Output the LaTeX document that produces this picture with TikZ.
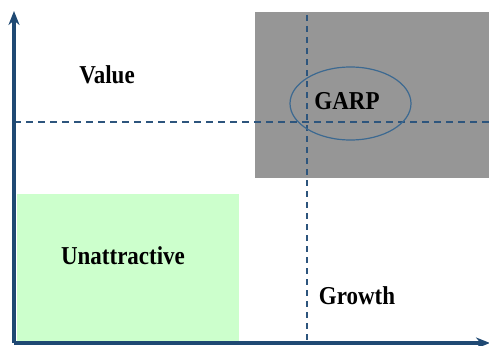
\documentclass[tikz,border=0pt]{standalone}
\usepackage{fontspec}
\setmainfont{Liberation Serif}
\usetikzlibrary{arrows.meta,shapes.geometric}
\definecolor{axisblue}{RGB}{31,73,115}
\definecolor{dashblue}{RGB}{45,85,125}
\definecolor{ringblue}{RGB}{60,105,145}
\definecolor{quadgray}{RGB}{150,150,150}
\definecolor{quadgreen}{RGB}{204,255,204}
\tikzset{
  axisline/.style={draw=axisblue, line width=3.5pt, -{Stealth[length=14pt,width=11pt]}},
  guideline/.style={draw=dashblue, line width=1.8pt, dash pattern=on 7pt off 5pt},
  label/.style={font=\bfseries\fontsize{23}{23}\selectfont, text=black, yscale=1.12, inner sep=0pt},
}
\begin{document}
\begin{tikzpicture}[x=1pt, y=-1pt]
  \useasboundingbox (0,0) rectangle (489,345);
  % quadrant fills
  \fill[quadgray] (255,12) rectangle (489,178);
  \fill[quadgreen] (17,194) rectangle (239,343);
  % reference coordinates
  \coordinate (origin) at (14,343);
  \coordinate (ytop) at (14,11);
  \coordinate (xend) at (490,343);
  \coordinate (hl) at (14,122);
  \coordinate (hr) at (489,122);
  \coordinate (vt) at (307,15);
  \coordinate (vb) at (307,343);
  % dashed dividers
  \draw[guideline] (hl) -- (hr);
  \draw[guideline, dash pattern=on 6pt off 5pt] (vt) -- (vb);
  % GARP ring
  \node[draw=ringblue, line width=1.2pt, ellipse, minimum width=121pt, minimum height=73pt, inner sep=0pt] (ring) at (350.5,103.5) {};
  % labels
  \node[label] (value) at (107,75) {Value};
  \node[label] (garp) at (347,101) {GARP};
  \node[label] (unattr) at (123,256) {Unattractive};
  \node[label] (growth) at (357,296) {Growth};
  % axes
  \draw[axisline] (origin) -- (ytop);
  \draw[axisline] (origin) -- (xend);
\end{tikzpicture}
\end{document}
